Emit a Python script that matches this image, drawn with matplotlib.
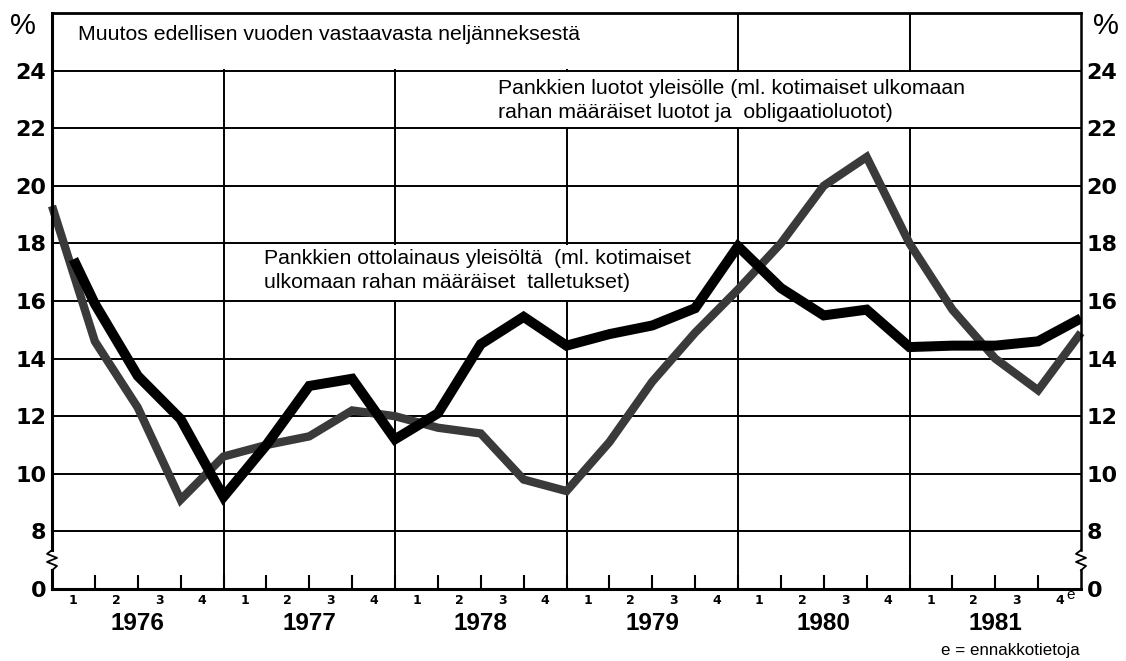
import numpy as np
import matplotlib
matplotlib.use("Agg")
import matplotlib.pyplot as plt
from matplotlib.patches import Rectangle

# quarter positions (0 = start of 1976, 24 = end of 1981)
luotot_x = np.arange(25)
luotot = [19.3, 14.6, 12.3, 9.1, 10.6, 11.0, 11.3, 12.2, 12.0, 11.6, 11.4, 9.8, 9.4,
          11.1, 13.2, 14.9, 16.4, 18.0, 20.0, 21.0, 18.0, 15.7, 14.0, 12.9, 14.9]

otto_x = [0.5] + list(range(1, 25))
otto = [17.45, 15.9, 13.4, 11.9, 9.2, 11.0, 13.05, 13.3, 11.2, 12.1, 14.5, 15.45, 14.45,
        14.85, 15.15, 15.75, 17.9, 16.45, 15.5, 15.7, 14.4, 14.45, 14.45, 14.6, 15.4]

years = ["1976", "1977", "1978", "1979", "1980", "1981"]
quarter_labels = ["1", "2", "3", "4"]
y_ticks = [6, 8, 10, 12, 14, 16, 18, 20, 22, 24]
y_labels = ["0", "8", "10", "12", "14", "16", "18", "20", "22", "24"]

title_txt = "Muutos edellisen vuoden vastaavasta neljänneksestä"
luotot_txt = "Pankkien luotot yleisölle (ml. kotimaiset ulkomaan\nrahan määräiset luotot ja  obligaatioluotot)"
otto_txt = "Pankkien ottolainaus yleisöltä  (ml. kotimaiset\nulkomaan rahan määräiset  talletukset)"

FONT = "Liberation Sans"


def main():
    fig = plt.figure(figsize=(11.26, 6.61), dpi=100)
    ax = fig.add_axes([52 / 1126, 72 / 661, (1081 - 52) / 1126, (589 - 13) / 661])
    ax.set_xlim(0, 24)
    ax.set_ylim(6, 26)

    # grid
    for v in y_ticks[1:]:
        ax.axhline(v, color="black", lw=1.4, zorder=3)
    for k in range(4, 24, 4):
        ax.axvline(k, color="black", lw=1.4, zorder=1)

    # white boxes behind the texts
    ax.add_patch(Rectangle((0, 24.05), 15.0, 1.9, facecolor="white", edgecolor="none", zorder=2))
    ax.add_patch(Rectangle((10.3, 22.05), 11.6, 1.9, facecolor="white", edgecolor="none", zorder=2))
    ax.add_patch(Rectangle((4.85, 16.05), 10.1, 1.9, facecolor="white", edgecolor="none", zorder=2))

    # data
    ax.plot(luotot_x, luotot, color="#3a3a3a", lw=6.0, zorder=4,
            solid_joinstyle="miter", solid_capstyle="butt", clip_on=False)
    ax.plot(otto_x, otto, color="black", lw=7.2, zorder=5,
            solid_joinstyle="miter", solid_capstyle="butt")

    # frame
    for s in ["left", "right"]:
        ax.spines[s].set_visible(False)
    ax.spines["top"].set_linewidth(2.0)
    ax.spines["bottom"].set_linewidth(2.2)
    zig_y = [7.35, 7.22, 7.08, 6.94, 6.8, 6.65]
    zig_dx = np.array([0, -5, 5, -5, 5, 0]) / 42.9
    for x0, lw in [(0, 2.2), (24, 1.8)]:
        ax.plot([x0, x0], [6, 6.65], color="black", lw=lw, clip_on=False, zorder=6)
        ax.plot([x0, x0], [7.35, 26], color="black", lw=lw, clip_on=False, zorder=6)
        ax.plot(x0 + zig_dx, zig_y, color="black", lw=1.3, clip_on=False, zorder=6)

    # axes ticks
    ax.set_xticks(range(1, 24))
    ax.set_xticklabels([])
    ax.tick_params(axis="x", direction="in", length=10, width=1.5)
    ax.set_yticks(y_ticks)
    ax.set_yticklabels(y_labels)
    ax.tick_params(axis="y", length=0, left=True, right=True, labelleft=True, labelright=True)
    ax.tick_params(axis="y", which="both", pad=4)
    for lab in ax.get_yticklabels():
        lab.set_fontfamily("DejaVu Sans")
        lab.set_fontweight("bold")
        lab.set_fontsize(16)

    for i, yr in enumerate(years):
        for q, ql in enumerate(quarter_labels):
            ax.annotate(ql, xy=(i * 4 + q + 0.5, 0), xycoords=("data", "axes fraction"),
                        xytext=(0, -8.5), textcoords="offset points", ha="center", va="center",
                        fontfamily="DejaVu Sans", fontweight="bold", fontsize=9)
        ax.annotate(yr, xy=(i * 4 + 2, 0), xycoords=("data", "axes fraction"),
                    xytext=(0, -24.5), textcoords="offset points", ha="center", va="center",
                    fontfamily=FONT, fontweight="bold", fontsize=17.5)
    ax.annotate("e", xy=(23.5, 0), xycoords=("data", "axes fraction"),
                xytext=(8, -4.5), textcoords="offset points", ha="center", va="center",
                fontfamily=FONT, fontsize=11)

    # texts
    ax.text(0.6, 25.25, title_txt, fontfamily=FONT, fontsize=15.3, va="center", ha="left", zorder=7)
    ax.text(10.4, 22.95, luotot_txt, fontfamily=FONT, fontsize=15.3, va="center", ha="left",
            linespacing=1.32, zorder=7)
    ax.text(4.95, 17.05, otto_txt, fontfamily=FONT, fontsize=15.3, va="center", ha="left",
            linespacing=1.32, zorder=7)

    fig.text(10 / 1126, 1 - 26 / 661, "%", fontfamily=FONT, fontsize=21, va="center", ha="left")
    fig.text(1093 / 1126, 1 - 26 / 661, "%", fontfamily=FONT, fontsize=21, va="center", ha="left")
    fig.text(1080 / 1126, 1 - 650 / 661, "e = ennakkotietoja", fontfamily=FONT, fontsize=12.2,
             va="center", ha="right")

    fig.savefig("out.png", dpi=100, facecolor="white")


if __name__ == "__main__":
    main()
